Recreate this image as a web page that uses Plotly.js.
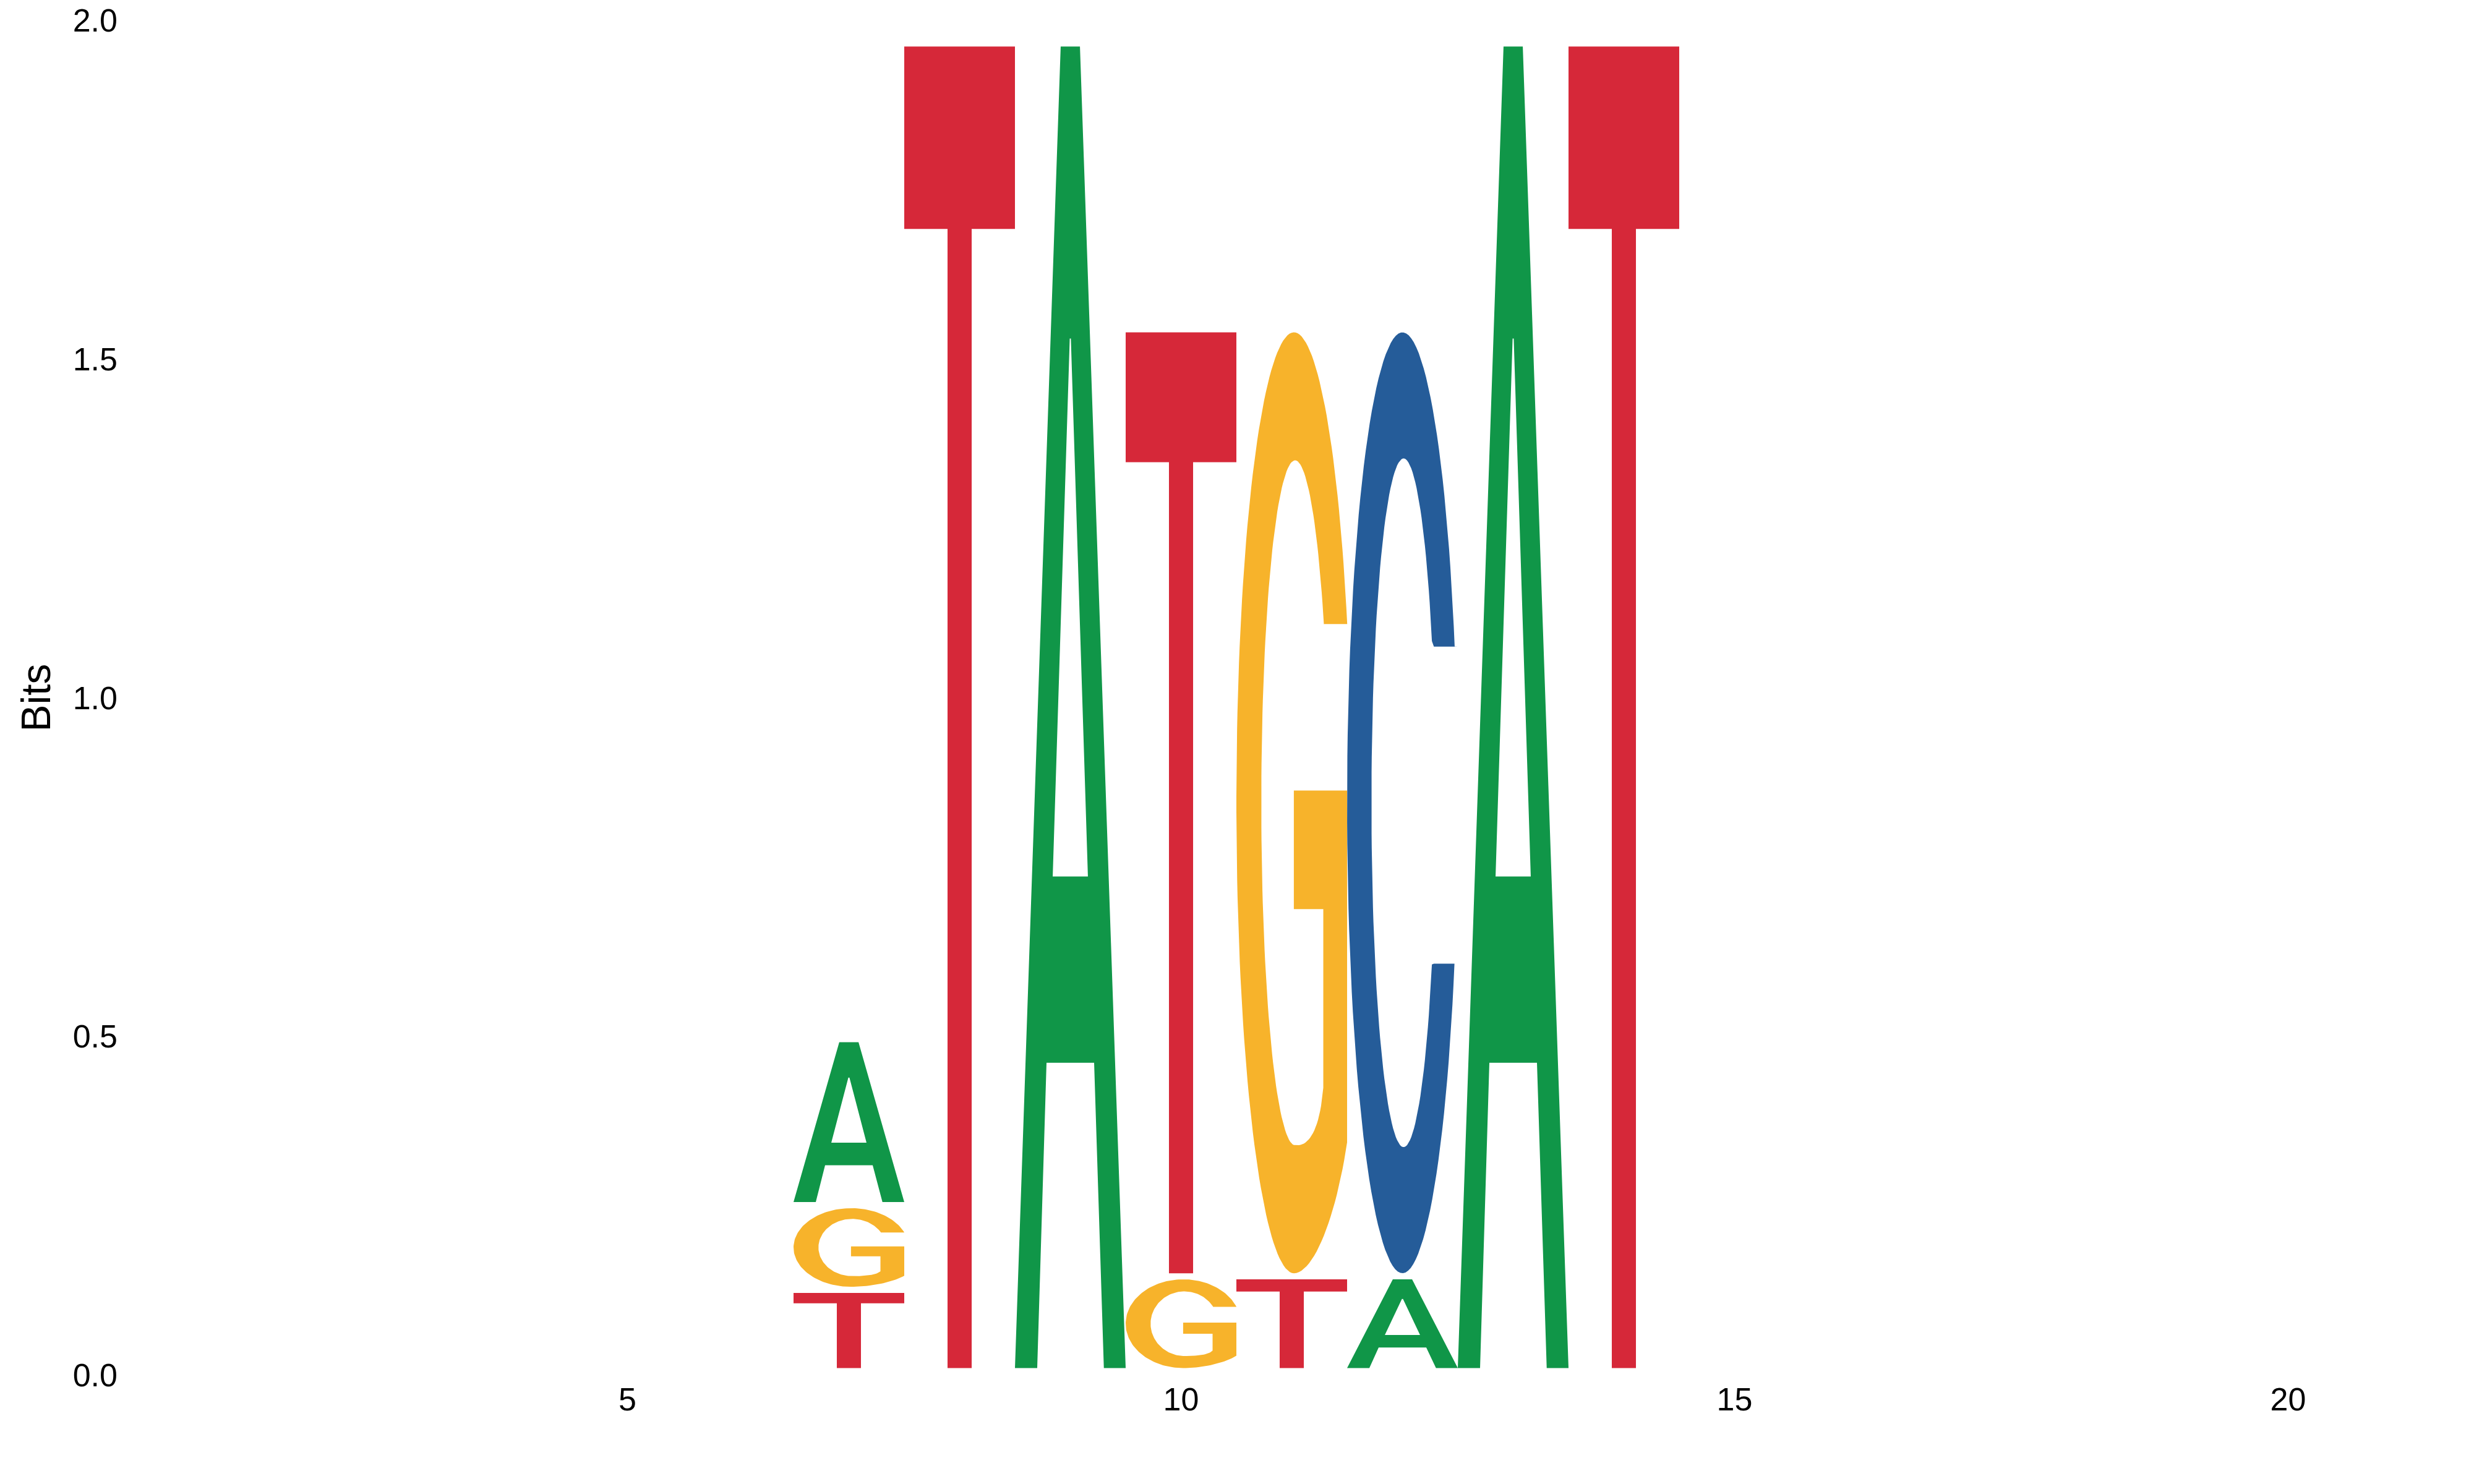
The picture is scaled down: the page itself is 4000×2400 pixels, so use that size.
<!DOCTYPE html>
<html>
<head>
<meta charset="utf-8">
<script src="https://cdn.plot.ly/plotly-3.0.1.min.js"></script>
<style>
  body { margin: 0; background: #ffffff; }
</style>
</head>
<body>
<div id="logo" style="width:4000px;height:2400px"></div>
<script>
var positions = [1, 2, 3, 4, 5, 6, 7, 8, 9, 10, 11, 12, 13, 14, 15, 16, 17, 18, 19, 20, 21];
var bitsA = [0, 0, 0, 0, 0, 0, 0.245, 0, 1.96, 0, 0, 0.14, 1.96, 0, 0, 0, 0, 0, 0, 0, 0];
var bitsC = [0, 0, 0, 0, 0, 0, 0, 0, 0, 0, 0, 1.398, 0, 0, 0, 0, 0, 0, 0, 0, 0];
var bitsG = [0, 0, 0, 0, 0, 0, 0.125, 0, 0, 0.14, 1.398, 0, 0, 0, 0, 0, 0, 0, 0, 0, 0];
var bitsT = [0, 0, 0, 0, 0, 0, 0.12, 1.96, 0, 1.398, 0.14, 0, 0, 1.96, 0, 0, 0, 0, 0, 0, 0];

var xTickVals = [5, 10, 15, 20];
var yTickVals = [0, 0.5, 1, 1.5, 2];
var yTickText = ['0.0', '0.5', '1.0', '1.5', '2.0'];

var baseColors = { A: '#109648', C: '#255C99', G: '#F7B32B', T: '#D62839' };
var letterPad = 0.0045;   // gap above/below each glyph, in bits
var stackStart = 0.006;   // small lift of every column off the baseline
var letterWidth = 1.0;

// --- glyph outlines in a unit box ---
function arc(cx, cy, rx, ry, a0, a1, n) {
  var pts = [];
  for (var i = 0; i <= n; i++) {
    var a = (a0 + (a1 - a0) * i / n) * Math.PI / 180;
    pts.push([cx + rx * Math.cos(a), cy + ry * Math.sin(a)]);
  }
  return pts;
}

function bezier(p0, p1, p2, p3, n) {
  var pts = [];
  for (var i = 0; i <= n; i++) {
    var t = i / n, s = 1 - t;
    pts.push([
      s*s*s*p0[0] + 3*s*s*t*p1[0] + 3*s*t*t*p2[0] + t*t*t*p3[0],
      s*s*s*p0[1] + 3*s*s*t*p1[1] + 3*s*t*t*p2[1] + t*t*t*p3[1]
    ]);
  }
  return pts;
}

var glyphs = {};

// A: outer outline, with the counter cut in through a zero-width slit
glyphs.A = [
  [0, 0], [0.201, 0], [0.285, 0.231], [0.5, 0.231],
  [0.5, 0.372], [0.341, 0.372], [0.495, 0.779], [0.505, 0.779], [0.659, 0.372], [0.5, 0.372],
  [0.5, 0.231], [0.715, 0.231], [0.803, 0], [1, 0], [0.587, 1], [0.413, 1], [0, 0]
];

glyphs.T = [
  [0, 1], [1, 1], [1, 0.862], [0.609, 0.862], [0.609, 0],
  [0.391, 0], [0.391, 0.862], [0, 0.862], [0, 1]
];

glyphs.C = [].concat(
  [[1, 0.666]],
  arc(0.5, 0.5, 0.5, 0.5, 19.4, 340, 120),
  [[1, 0.329], [0.784, 0.329]],
  arc(0.51, 0.5, 0.29, 0.366, 332, 28, 120),
  [[0.784, 0.666], [1, 0.666]]
);

glyphs.G = [].concat(
  [[1, 0.69]],
  arc(0.52, 0.5, 0.52, 0.5, 22.3, 270, 120),
  bezier([0.52, 0], [0.7, 0], [0.9, 0.06], [1, 0.139], 24),
  [[1, 0.513], [0.519, 0.513], [0.519, 0.387], [0.785, 0.387], [0.785, 0.197]],
  bezier([0.785, 0.197], [0.75, 0.15], [0.65, 0.136], [0.55, 0.136], 20),
  arc(0.53, 0.5, 0.305, 0.364, 268, 31.5, 110),
  [[0.785, 0.69], [1, 0.69]]
);

// --- stack letters per position, smallest at the bottom ---
var letterBits = { A: bitsA, C: bitsC, G: bitsG, T: bitsT };
var outlines = { A: { x: [], y: [] }, C: { x: [], y: [] }, G: { x: [], y: [] }, T: { x: [], y: [] } };

positions.forEach(function (pos, i) {
  var column = [];
  Object.keys(letterBits).forEach(function (b) {
    if (letterBits[b][i] > 0) column.push({ base: b, h: letterBits[b][i] });
  });
  column.sort(function (p, q) { return p.h - q.h; });
  var floor = stackStart;
  column.forEach(function (c) {
    var y0 = floor + letterPad, y1 = floor + c.h - letterPad;
    var x0 = pos - letterWidth / 2;
    var o = outlines[c.base];
    glyphs[c.base].forEach(function (p) {
      o.x.push(x0 + p[0] * letterWidth);
      o.y.push(y0 + p[1] * (y1 - y0));
    });
    o.x.push(null);
    o.y.push(null);
    floor += c.h;
  });
});

var traces = Object.keys(outlines).map(function (b) {
  return {
    type: 'scatter',
    mode: 'lines',
    name: b,
    x: outlines[b].x,
    y: outlines[b].y,
    fill: 'toself',
    fillcolor: baseColors[b],
    line: { width: 0, color: baseColors[b] },
    hoverinfo: 'name',
    showlegend: false
  };
});

var tickFont = { family: 'Liberation Sans, Arial, sans-serif', size: 52, color: '#000000' };

var layout = {
  width: 4000,
  height: 2400,
  margin: { l: 209, r: 32, t: 33, b: 176 },
  paper_bgcolor: '#ffffff',
  plot_bgcolor: '#ffffff',
  showlegend: false,
  xaxis: {
    range: [0.5, 21.5],
    tickvals: xTickVals,
    ticks: '',
    showgrid: false,
    zeroline: false,
    showline: false,
    tickfont: tickFont,
    ticklabelstandoff: 4
  },
  yaxis: {
    range: [0, 2],
    tickvals: yTickVals,
    ticktext: yTickText,
    ticks: '',
    showgrid: false,
    zeroline: false,
    showline: false,
    tickfont: tickFont,
    ticklabelstandoff: 18,
    title: { text: 'Bits', font: { family: 'Liberation Sans, Arial, sans-serif', size: 66, color: '#000000' }, standoff: 14 }
  }
};

Plotly.newPlot('logo', traces, layout, { staticPlot: true });
</script>
</body>
</html>
